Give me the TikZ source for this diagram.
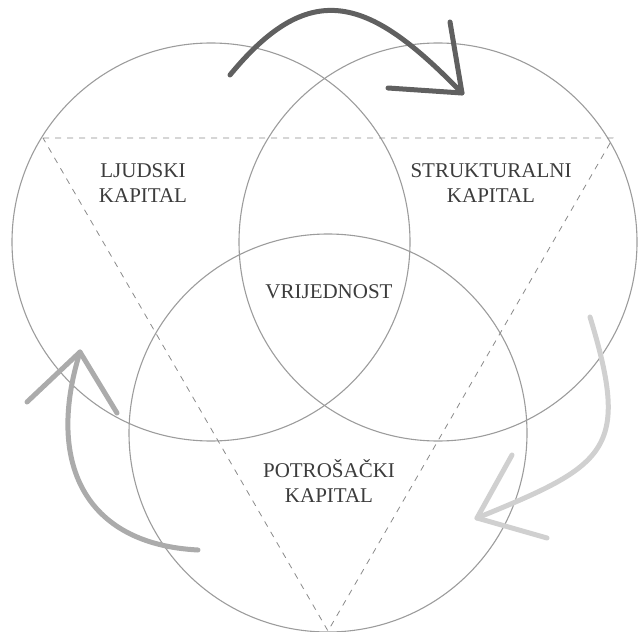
\documentclass[tikz,border=0pt]{standalone}
\usepackage{fontspec}
\setmainfont{Liberation Serif}
\definecolor{krugsiva}{HTML}{9C9C9C}
\definecolor{crtasiva}{HTML}{8A8A8A}
\definecolor{tekstsiva}{HTML}{3C3C3C}
\definecolor{tamna}{HTML}{606060}
\definecolor{srednja}{HTML}{ABABAB}
\definecolor{svijetla}{HTML}{D0D0D0}
\begin{document}
\begin{tikzpicture}[x=1bp,y=-1bp,
  krug/.style={circle,draw=krugsiva,line width=1.1bp,minimum size=398bp,inner sep=0},
  trokut/.style={draw=crtasiva,line width=0.8bp,dash pattern=on 6bp off 6bp},
  strelica/.style={line width=5bp,line cap=round,line join=round},
  oznaka/.style={text=tekstsiva,font=\fontsize{21bp}{25bp}\selectfont,align=center,inner sep=0}]
\useasboundingbox (0,0) rectangle (638,632);
% krugovi
\node[krug](lj)at(211,242){};
\node[krug](st)at(438,242){};
\node[krug](po)at(328,433){};
% trokut
\coordinate(tA)at(43,138);\coordinate(tB)at(613,138);\coordinate(tC)at(328,631);
\draw[trokut](tA)--(tB)--(tC)--cycle;
% tekst
\node[oznaka](ljt)at(143,183){LJUDSKI\\KAPITAL};
\node[oznaka](stt)at(491,183){STRUKTURALNI\\KAPITAL};
\node[oznaka](vr)at(329,292){VRIJEDNOST};
\node[oznaka](pot)at(329,481){POTROŠAČKI\\KAPITAL};
% strelice
\coordinate(a1)at(230,75);\coordinate(a2)at(462,93);
\coordinate(a3)at(450,22);\coordinate(a4)at(388,88);
\draw[strelica,draw=tamna](a1)..controls(312,-25)and(371,-1)..(a2);
\draw[strelica,draw=tamna](a3)--(a2)--(a4);
\coordinate(b1)at(198,550);\coordinate(b2)at(80,352);
\coordinate(b3)at(27,402);\coordinate(b4)at(117,413);
\draw[strelica,draw=srednja](b1)..controls(83,544)and(46,461)..(b2);
\draw[strelica,draw=srednja](b3)--(b2)--(b4);
\coordinate(c1)at(590,317);\coordinate(c2)at(477,518);
\coordinate(c3)at(512,455);\coordinate(c4)at(547,538);
\draw[strelica,draw=svijetla](c1)..controls(631,451)and(607,465)..(c2);
\draw[strelica,draw=svijetla](c3)--(c2)--(c4);
\end{tikzpicture}
\end{document}
